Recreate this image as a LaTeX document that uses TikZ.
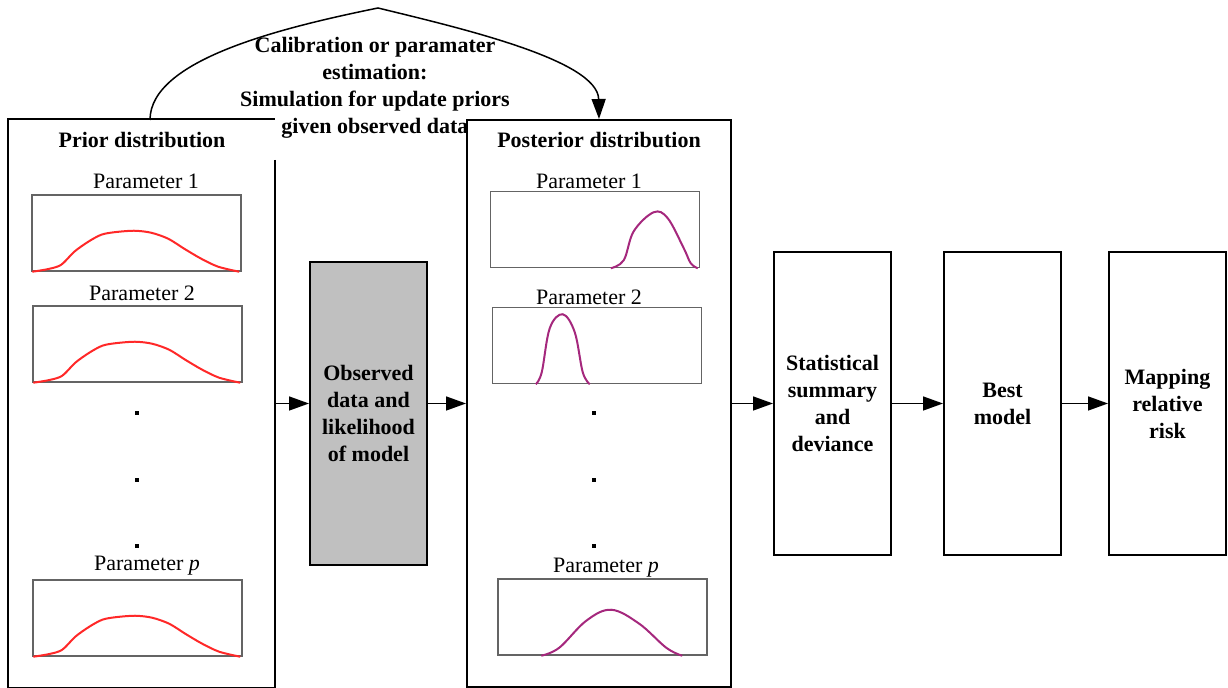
\documentclass[tikz,border=0pt]{standalone}
\usepackage{fontspec}
\setmainfont{Liberation Serif}
\usetikzlibrary{arrows.meta}
\definecolor{frgrey}{RGB}{100,100,100}
\definecolor{obsgrey}{RGB}{192,192,192}
\definecolor{priorred}{RGB}{255,40,40}
\definecolor{postpurple}{RGB}{165,40,125}
\newcommand{\labfont}{\fontsize{11}{13.5}\selectfont}
\tikzset{
  panel/.style={draw,line width=1pt,minimum width=132.5pt,minimum height=283.5pt,inner sep=0pt},
  stepbox/.style={draw,line width=1pt,minimum width=58.5pt,minimum height=151.5pt,inner sep=0pt,
    align=center,font=\labfont\bfseries},
  plotbox/.style={draw=frgrey,line width=0.75pt,minimum width=104.5pt,minimum height=38pt,inner sep=0pt},
  title/.style={font=\labfont\bfseries,inner sep=0pt},
  param/.style={font=\labfont,inner sep=0pt},
  flow/.style={-{Triangle[length=10pt,width=7pt]},line width=0.75pt}
}

\begin{document}
\begin{tikzpicture}[x=0.5pt,y=-0.5pt]
\useasboundingbox (0,0) rectangle (1228,688);

% containers
\node[panel,draw=none] (prior) at (141.5,403.5) {};
\node[panel,minimum width=132pt] (post) at (599,403.5) {};
\draw[line width=1pt] ([yshift=-20.5pt]prior.north east) -- (prior.south east)
  -- (prior.south west) -- (prior.north west) -- (prior.north east);

\node[title] (priortitle) at (142,140) {Prior distribution};
\node[title] (posttitle) at (599,140) {Posterior distribution};

% prior plots
\node[param] (prlab1) at (146,181) {Parameter 1};
\node[plotbox] (pr1) at (136.5,233) {};
\node[param] (prlab2) at (142,293) {Parameter 2};
\node[plotbox] (pr2) at (137.5,344) {};
\node[param] (prlabp) at (147,566) {Parameter \textit{p}};
\node[plotbox] (prp) at (137.5,618) {};

\foreach \b in {pr1,pr2,prp}{
  \begin{scope}[shift={(\b.south west)}]
    \draw[priorred,line width=1pt] plot[smooth,tension=0.5] coordinates
      {(1,0) (17,-2.7) (30,-7) (43,-20) (57,-30) (70,-37) (83,-39.5) (103,-41)
       (120,-39) (137,-33) (153,-23) (170,-13) (187,-5) (208,0)};
  \end{scope}
}

% posterior plots
\node[param] (polab1) at (589,181) {Parameter 1};
\node[plotbox] (po1) at (595,229.5) {};
\node[param] (polab2) at (589,297) {Parameter 2};
\node[plotbox] (po2) at (597,345.5) {};
\node[param] (polabp) at (606,568) {Parameter \textit{p}};
\node[plotbox] (pop) at (602.5,617) {};

\begin{scope}[shift={(po1.south west)}]
  \draw[postpurple,line width=1pt] plot[smooth,tension=0.6] coordinates
    {(121,0) (134,-8) (144,-37) (164,-56) (178,-50) (194,-20) (201,-5) (208,0)};
\end{scope}
\begin{scope}[shift={(po2.south west)}]
  \draw[postpurple,line width=1pt] plot[smooth,tension=0.6] coordinates
    {(44,0) (50,-12) (58,-56) (71,-70) (83,-52) (91,-12) (98,0)};
\end{scope}
\begin{scope}[shift={(pop.south west)}]
  \draw[postpurple,line width=1pt] plot[smooth,tension=0.6] coordinates
    {(44,0) (62,-8) (89,-35) (114,-46) (142,-32) (169,-8) (185,0)};
\end{scope}

% dots
\foreach \y in {413,480,546}{
  \fill (135,\y-2) rectangle ++(4,4);
  \fill (592,\y-2) rectangle ++(4,4);
}

% steps
\node[stepbox,fill=obsgrey] (obs) at (368.5,413.5) {Observed\\data and\\likelihood\\of model};
\node[stepbox] (stat) at (832.5,403.5) {Statistical\\summary\\and\\deviance};
\node[stepbox] (best) at (1002.5,403.5) {Best\\model};
\node[stepbox] (map) at (1167.5,403.5) {Mapping\\relative\\risk};

\draw[flow] (prior.east |- stat) -- (obs.west |- stat);
\draw[flow] (obs.east |- stat) -- (post.west |- stat);
\draw[flow] (post.east |- stat) -- (stat.west);
\draw[flow] (stat) -- (best);
\draw[flow] (best) -- (map);

% calibration loop
\coordinate (arcstart) at (150,120);
\coordinate (arctop) at (378,8);
\draw[flow] (arcstart) .. controls (150,60) and (280,28) .. (arctop)
  .. controls (460,28) and (598,60) .. (post.north);
\node[title,align=center] (calib) at (375,88)
  {Calibration or paramater\\estimation:\\Simulation for update priors\\given observed data};

\end{tikzpicture}
\end{document}
